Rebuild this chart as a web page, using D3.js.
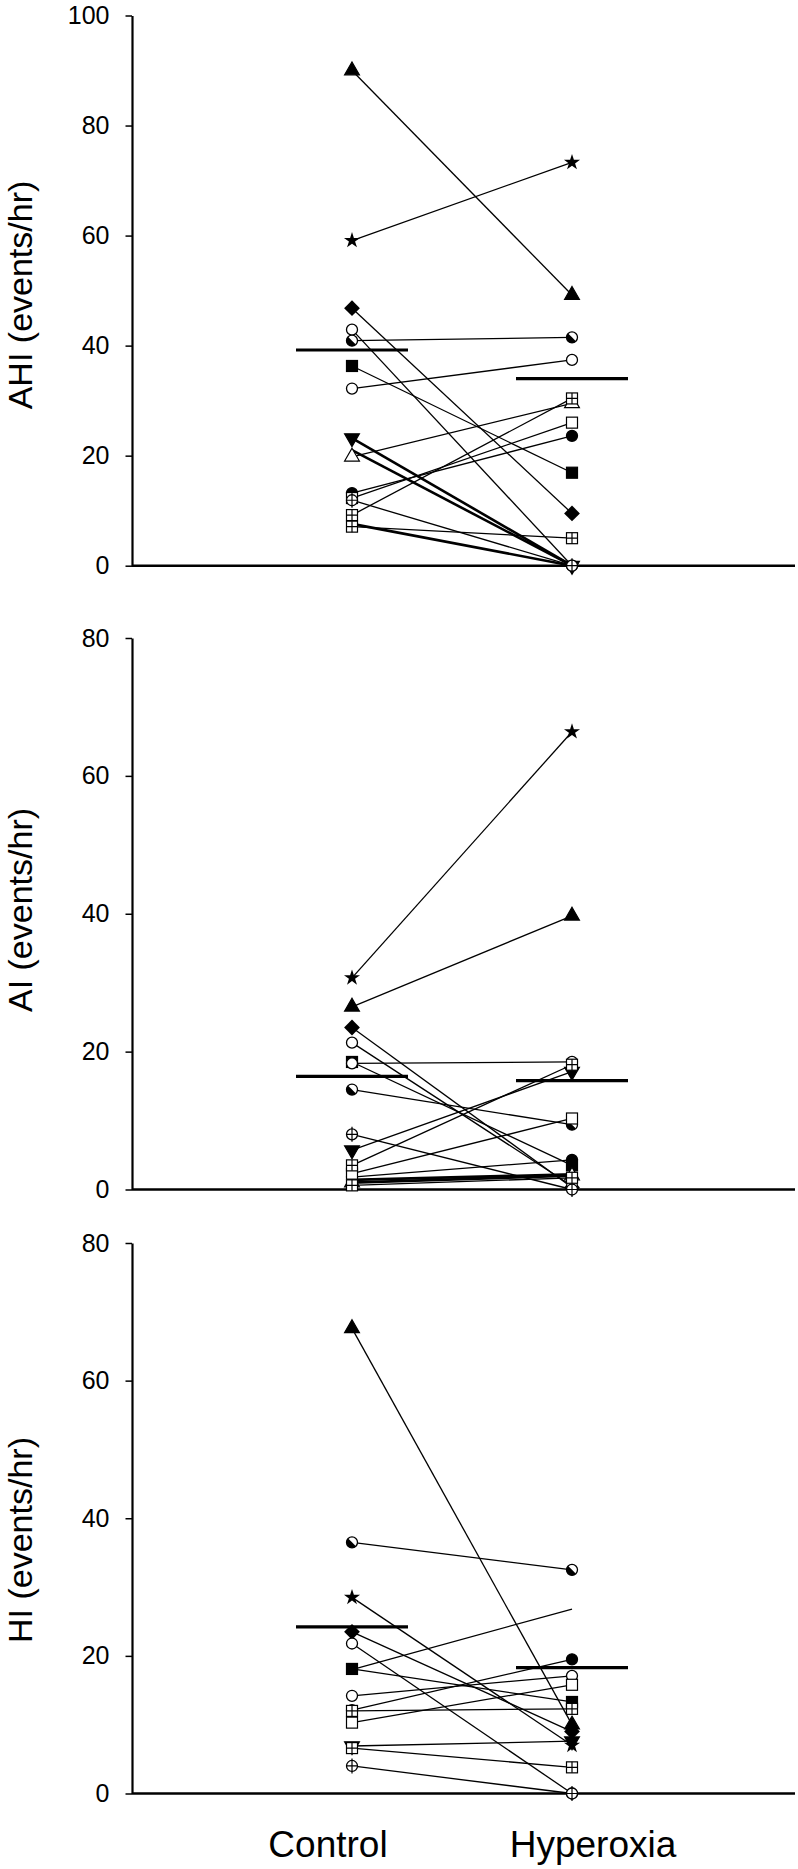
<!DOCTYPE html>
<html>
<head>
<meta charset="utf-8">
<script src="https://cdn.jsdelivr.net/npm/d3@7"></script>
<style>
  body { margin: 0; background: #fff; }
  text { font-family: "Liberation Sans", Arial, sans-serif; fill: #000; }
</style>
</head>
<body>
<script>
// Categories on the x axis
var categories = ['Control', 'Hyperoxia'];

// AHI panel: one value per subject, control and hyperoxia
var ahiControl = [90, 59.1, 46.8, 42.9, 40.9, 36.3, 32.2, 23.2, 19.8, 13.2, 12.3, 11.9, 9.2, 7.1, 21.0, 7.6];
var ahiHyper = [49.2, 73.3, 9.5, 0, 41.5, 16.9, 37.4, 0, 29.5, 23.6, 26.0, 0, 30.4, 5.0, 0, 0];
var ahiMarks = ['triUp', 'star', 'diamond', 'circleOpen', 'half', 'square', 'circleOpen', 'triDown', 'triOpen', 'circle', 'squareOpen', 'circlePlus', 'squarePlus', 'squarePlus', null, null];
var ahiMeans = [39.2, 34.0];
var ahiTicks = [0, 20, 40, 60, 80, 100];
var ahiThick = [7, 14, 15];

// AI panel
var aiControl = [26.5, 30.7, 23.5, 21.3, 14.5, 18.5, 18.3, 5.7, 1.0, 1.8, 2.3, 8.0, 3.5, 0.6, 1.4, 1.0];
var aiHyper = [39.7, 66.4, 0.3, 0.5, 9.4, 3.5, 18.5, 17.1, 2.0, 4.3, 10.3, 0, 18.1, 1.7, 2.2, 2.0];
var aiMarks = ['triUp', 'star', 'diamond', 'circleOpen', 'half', 'square', 'circleOpen', 'triDown', 'triOpen', 'circle', 'squareOpen', 'circlePlus', 'squarePlus', 'squarePlus', null, null];
var aiMeans = [16.4, 15.8];
var aiTicks = [0, 20, 40, 60, 80];
var aiThick = [14, 15];

// HI panel
var hiControl = [67.6, 28.5, 23.5, 21.8, 36.5, 18.1, 14.2, 6.9, 18.0, 12.1, 10.3, 4.0, 6.6, 12.0];
var hiHyper = [10.0, 7.0, 9.0, 0, 32.5, 13.3, 17.1, 7.6, 26.8, 19.5, 15.8, 0, 3.8, 12.3];
var hiMarks = ['triUp', 'star', 'diamond', 'circleOpen', 'half', 'square', 'circleOpen', 'triDown', null, 'circle', 'squareOpen', 'circlePlus', 'squarePlus', 'squarePlus'];
var hiMeans = [24.2, 18.3];
var hiTicks = [0, 20, 40, 60, 80];
var hiThick = [];

var svg = d3.select('body').append('svg').attr('width', 798).attr('height', 1869);

var x = d3.scalePoint().domain(categories).range([352, 572]);

var panels = [
  { label: 'AHI (events/hr)', top: 15.5, bottom: 565.7, max: 100, ticks: ahiTicks, control: ahiControl, hyper: ahiHyper, marks: ahiMarks, means: ahiMeans, thick: ahiThick, labelY: 295 },
  { label: 'AI (events/hr)', top: 638, bottom: 1189.5, max: 80, ticks: aiTicks, control: aiControl, hyper: aiHyper, marks: aiMarks, means: aiMeans, thick: aiThick, labelY: 910 },
  { label: 'HI (events/hr)', top: 1243, bottom: 1793.5, max: 80, ticks: hiTicks, control: hiControl, hyper: hiHyper, marks: hiMarks, means: hiMeans, thick: hiThick, labelY: 1540 }
];

function drawMarker(g, type, cx, cy) {
  if (!type) return;
  var m = g.append('g').attr('transform', 'translate(' + cx + ',' + cy + ')');
  var r = 5.5;
  if (type === 'triUp' || type === 'triDown' || type === 'triOpen') {
    m.append('path')
      .attr('d', d3.symbol(d3.symbolTriangle, 95)())
      .attr('transform', type === 'triDown' ? 'rotate(180)' : null)
      .attr('fill', type === 'triOpen' ? '#fff' : '#000')
      .attr('stroke', '#000').attr('stroke-width', 1.2);
  } else if (type === 'diamond') {
    m.append('path').attr('d', d3.symbol(d3.symbolSquare, 125)()).attr('transform', 'rotate(45)').attr('fill', '#000');
  } else if (type === 'star') {
    m.append('path').attr('d', d3.symbol(d3.symbolStar, 80)()).attr('fill', '#000');
  } else if (type === 'circle' || type === 'circleOpen' || type === 'half' || type === 'circlePlus') {
    m.append('circle').attr('r', r)
      .attr('fill', type === 'circle' ? '#000' : '#fff')
      .attr('stroke', '#000').attr('stroke-width', 1.3);
    if (type === 'half') {
      m.append('path')
        .attr('d', d3.arc()({ innerRadius: 0, outerRadius: r, startAngle: Math.PI * 0.75, endAngle: Math.PI * 1.75 }))
        .attr('fill', '#000');
    }
    if (type === 'circlePlus') {
      m.append('path').attr('d', 'M0,' + (-r - 2) + 'V' + (r + 2) + 'M' + (-r) + ',0H' + r)
        .attr('stroke', '#000').attr('stroke-width', 1.2);
    }
  } else if (type === 'square' || type === 'squareOpen' || type === 'squarePlus') {
    var s = 11;
    m.append('rect').attr('x', -s / 2).attr('y', -s / 2).attr('width', s).attr('height', s)
      .attr('fill', type === 'square' ? '#000' : '#fff')
      .attr('stroke', '#000').attr('stroke-width', 1.2);
    if (type === 'squarePlus') {
      m.append('path').attr('d', 'M0,' + (-s / 2) + 'V' + (s / 2) + 'M' + (-s / 2) + ',0H' + (s / 2))
        .attr('stroke', '#000').attr('stroke-width', 1.2);
    }
  }
}

panels.forEach(function (p) {
  var y = d3.scaleLinear().domain([0, p.max]).range([p.bottom, p.top]);
  var g = svg.append('g');

  // y axis
  var axis = g.append('g')
    .attr('transform', 'translate(132,0)')
    .call(d3.axisLeft(y).tickValues(p.ticks).tickSize(6.5).tickSizeOuter(0).tickPadding(16));
  axis.select('.domain').attr('stroke-width', 2.2);
  axis.selectAll('.tick line').attr('stroke-width', 1.5);
  axis.selectAll('.tick text').attr('font-size', 25).attr('font-family', '"Liberation Sans", Arial, sans-serif');

  // x axis baseline
  g.append('line')
    .attr('x1', 132).attr('x2', 795)
    .attr('y1', y(0)).attr('y2', y(0))
    .attr('stroke', '#000').attr('stroke-width', 2.4);

  // y label
  g.append('text')
    .attr('transform', 'translate(32,' + p.labelY + ') rotate(-90)')
    .attr('text-anchor', 'middle')
    .attr('font-size', 34)
    .text(p.label);

  // subject lines
  g.append('g').selectAll('line')
    .data(p.control)
    .enter()
    .append('line')
    .attr('x1', x(categories[0]))
    .attr('x2', x(categories[1]))
    .attr('y1', function (d) { return y(d); })
    .attr('y2', function (d, i) { return y(p.hyper[i]); })
    .attr('stroke', '#000')
    .attr('stroke-width', function (d, i) { return p.thick.indexOf(i) >= 0 ? 2.6 : 1.3; });

  // mean bars
  g.append('g').selectAll('line')
    .data(p.means)
    .enter()
    .append('line')
    .attr('x1', function (d, i) { return x(categories[i]) - 56; })
    .attr('x2', function (d, i) { return x(categories[i]) + 56; })
    .attr('y1', function (d) { return y(d); })
    .attr('y2', function (d) { return y(d); })
    .attr('stroke', '#000')
    .attr('stroke-width', 3.2);

  // markers
  var mg = g.append('g');
  p.control.forEach(function (d, i) {
    drawMarker(mg, p.marks[i], x(categories[0]), y(d));
  });
  p.hyper.forEach(function (d, i) {
    drawMarker(mg, p.marks[i], x(categories[1]), y(d));
  });
});

// category labels under the bottom panel
var labelOffsets = [-24, 21];
svg.append('g').selectAll('text')
  .data(categories)
  .enter()
  .append('text')
  .attr('x', function (d, i) { return x(d) + labelOffsets[i]; })
  .attr('y', 1857)
  .attr('text-anchor', 'middle')
  .attr('font-size', 37)
  .text(function (d) { return d; });
</script>
</body>
</html>
